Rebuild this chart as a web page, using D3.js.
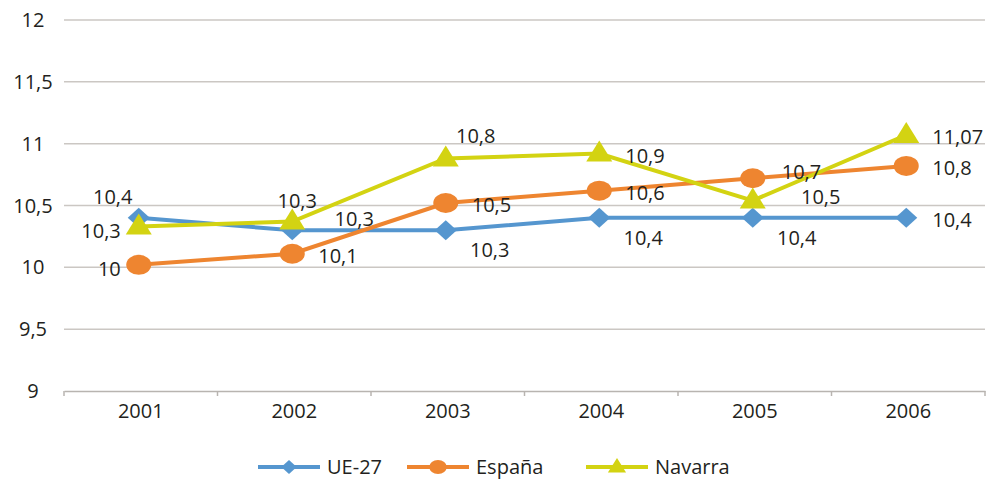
<!DOCTYPE html>
<html>
<head>
<meta charset="utf-8">
<script src="https://cdn.jsdelivr.net/npm/d3@7"></script>
<style>
  body { margin: 0; background: #fff; }
  text { font-family: "Open Sans", "DejaVu Sans", sans-serif; fill: #231f20; }
</style>
</head>
<body>
<div id="viz"></div>
<script>
var years = ['2001', '2002', '2003', '2004', '2005', '2006'];
var yTicks = [9, 9.5, 10, 10.5, 11, 11.5, 12];

var ue27 = [10.4, 10.3, 10.3, 10.4, 10.4, 10.4];
var espana = [10.02, 10.11, 10.52, 10.62, 10.72, 10.82];
var navarra = [10.33, 10.37, 10.88, 10.92, 10.54, 11.07];

var ue27Labels = ['10,4', '10,3', '10,3', '10,4', '10,4', '10,4'];
var espanaLabels = ['10', '10,1', '10,5', '10,6', '10,7', '10,8'];
var navarraLabels = ['10,3', '10,3', '10,8', '10,9', '10,5', '11,07'];

// where each label sits relative to its point
var ue27Pos = ['aboveleft', 'upright', 'belowright', 'belowright', 'belowright', 'right'];
var espanaPos = ['left', 'right', 'right', 'right', 'rightup', 'right'];
var navarraPos = ['left', 'above', 'aboveright', 'right', 'farright', 'right'];

var series = [
  {name: 'UE-27', values: ue27, labels: ue27Labels, pos: ue27Pos, color: '#5596cf', marker: 'diamond'},
  {name: 'España', values: espana, labels: espanaLabels, pos: espanaPos, color: '#ee8530', marker: 'circle'},
  {name: 'Navarra', values: navarra, labels: navarraLabels, pos: navarraPos, color: '#d3d312', marker: 'triangle'}
];

var width = 987,
    height = 483;

var svg = d3.select('#viz').append('svg')
  .attr('width', width)
  .attr('height', height);

var x = d3.scaleBand()
  .domain(years)
  .range([64, 985]);

var y = d3.scaleLinear()
  .domain([9, 12])
  .range([391, 20]);

// grid
svg.append('g').selectAll('line')
  .data(yTicks.filter(function(d){ return d > 9; }))
  .enter().append('line')
  .attr('x1', 64).attr('x2', 985)
  .attr('y1', function(d){ return y(d); })
  .attr('y2', function(d){ return y(d); })
  .attr('stroke', '#cbc7c3')
  .attr('stroke-width', 1.5);

var fmt = function(d){ return String(d).replace('.', ','); };

// y axis labels
svg.append('g').selectAll('text')
  .data(yTicks)
  .enter().append('text')
  .attr('x', 33)
  .attr('y', function(d){ return y(d) + 7; })
  .attr('text-anchor', 'middle')
  .style('font-size', '20px')
  .text(fmt);

// x axis
var xAxis = svg.append('g')
  .attr('transform', 'translate(0,391)')
  .call(d3.axisBottom(x).tickSize(0).tickPadding(13));
xAxis.select('.domain').attr('stroke', '#b8b4b0').attr('stroke-width', 1.5);
xAxis.selectAll('text')
  .style('font-size', '20px')
  .style('font-family', '"Open Sans", sans-serif')
  .attr('fill', '#231f20');

var bounds = d3.range(years.length + 1).map(function(i){ return 64 + i * x.step(); });
svg.append('g').selectAll('line')
  .data(bounds)
  .enter().append('line')
  .attr('x1', function(d){ return d; }).attr('x2', function(d){ return d; })
  .attr('y1', 391).attr('y2', 396)
  .attr('stroke', '#b8b4b0')
  .attr('stroke-width', 1.5);

function cx(i){ return x(years[i]) + x.bandwidth() / 2 - 2; }

function drawMarker(g, type, color, px, py, s){
  s = s || 1;
  if(type === 'diamond'){
    g.append('path')
      .attr('d', 'M0,' + (-10*s) + 'L' + (11*s) + ',0L0,' + (10*s) + 'L' + (-11*s) + ',0Z')
      .attr('transform', 'translate(' + px + ',' + py + ')')
      .attr('fill', color);
  }else if(type === 'circle'){
    g.append('ellipse')
      .attr('cx', px).attr('cy', py)
      .attr('rx', 12.5*s).attr('ry', 10*s)
      .attr('fill', color);
  }else{
    g.append('path')
      .attr('d', 'M0,' + (-13*s) + 'L' + (13*s) + ',' + (8*s) + 'L' + (-13*s) + ',' + (8*s) + 'Z')
      .attr('transform', 'translate(' + px + ',' + py + ')')
      .attr('fill', color);
  }
}

// [dx, dy, anchor]
var offsets = {
  above: [5, -14, 'middle'],
  aboveleft: [-26, -14, 'middle'],
  aboveright: [30, -16, 'middle'],
  upright: [62, -4, 'middle'],
  right: [26, 9, 'start'],
  rightup: [29, 1, 'start'],
  farright: [68, 3, 'middle'],
  belowright: [44, 27, 'middle'],
  left: [-18, 11, 'end']
};

var line = d3.line()
  .x(function(d, i){ return cx(i); })
  .y(function(d){ return y(d); });

series.forEach(function(s){
  var g = svg.append('g');
  g.append('path')
    .datum(s.values)
    .attr('d', line)
    .attr('fill', 'none')
    .attr('stroke', s.color)
    .attr('stroke-width', 4);
  s.values.forEach(function(v, i){
    drawMarker(g, s.marker, s.color, cx(i), y(v));
  });
});

// labels on top
series.forEach(function(s){
  svg.append('g').selectAll('text')
    .data(s.values)
    .enter().append('text')
    .attr('x', function(d, i){ return cx(i) + offsets[s.pos[i]][0]; })
    .attr('y', function(d, i){ return y(d) + offsets[s.pos[i]][1]; })
    .attr('text-anchor', function(d, i){ return offsets[s.pos[i]][2]; })
    .style('font-size', '20px')
    .text(function(d, i){ return s.labels[i]; });
});

// legend
var legendX = [258, 407, 586];
series.forEach(function(s, i){
  var lg = svg.append('g');
  lg.append('line')
    .attr('x1', legendX[i]).attr('x2', legendX[i] + 62)
    .attr('y1', 467).attr('y2', 467)
    .attr('stroke', s.color)
    .attr('stroke-width', 4);
  drawMarker(lg, s.marker, s.color, legendX[i] + 31, 467, 0.7);
  lg.append('text')
    .attr('x', legendX[i] + 69)
    .attr('y', 474)
    .style('font-size', '20px')
    .text(s.name);
});
</script>
</body>
</html>
